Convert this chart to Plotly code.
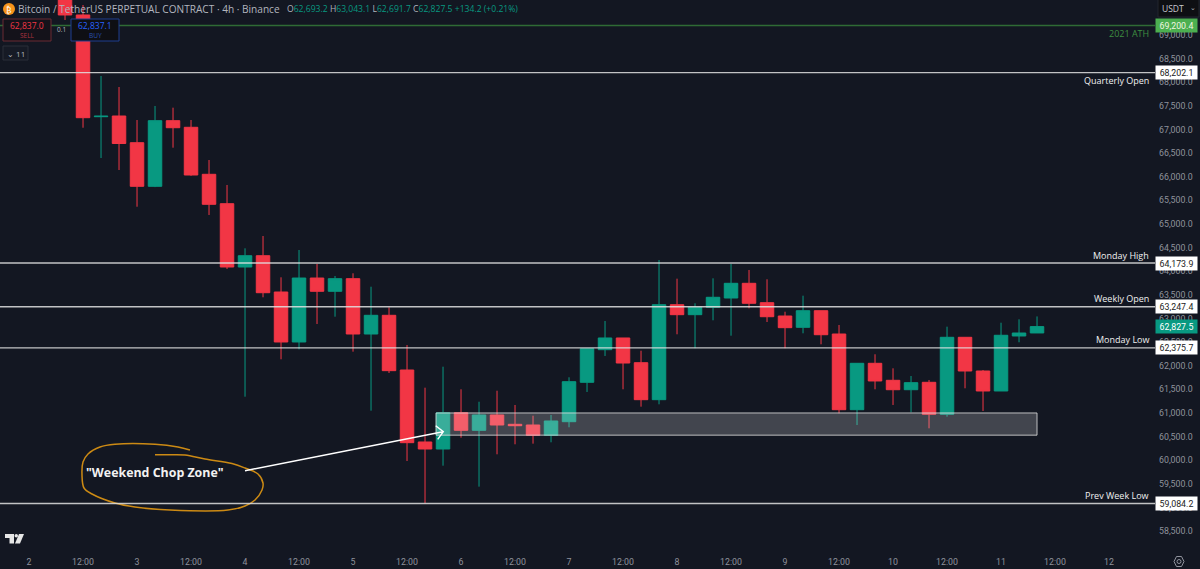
import pandas as pd
import plotly.graph_objects as go

# 4h candles, first one is day 2 08:00
start = "2024-07-02 08:00"
opens = [69846, 69423, 67270, 67285, 66720, 65797, 67186, 67046, 66051, 65429, 64089, 64328, 63560, 62502, 63856, 63575, 63842, 62671, 63067,
         61909, 60386, 60237, 61006, 60633, 60957, 60760, 60745, 60527, 60815, 61649, 62339, 62587, 62064, 61281, 63291, 63080, 63236, 63433,
         63744, 63334, 63052, 62813, 63164, 62671, 61069, 62051, 61691, 61492, 61649, 60972, 62601, 61888, 61465, 62629, 62693.2]
highs = [69900, 69634, 68132, 67899, 67200, 67497, 67461, 67200, 66354, 65825, 64485, 64745, 63871, 64449, 64153, 63899, 63956, 63672, 63236,
         62438, 61535, 61979, 61501, 61238, 61471, 61169, 60942, 60957, 61755, 62360, 62946, 62587, 62318, 64237, 63842, 63321, 63850, 64153,
         64026, 63829, 63143, 63482, 63164, 62862, 62051, 62242, 61945, 61782, 61698, 62826, 62601, 61909, 62910, 62982, 63043.1]
lows = [69317, 67037, 66396, 66142, 65365, 65780, 66614, 66020, 65190, 64047, 61344, 63448, 62136, 62347, 62883, 63037, 62297, 61048, 61846,
        59983, 59088, 59884, 60477, 59440, 60125, 60337, 60350, 60379, 60697, 61444, 62206, 61501, 61133, 61183, 62665, 62369, 62961, 62635,
        63215, 62925, 62369, 62686, 62453, 60993, 60745, 61501, 61169, 61014, 60675, 60921, 61522, 61042, 61465, 62496, 62691.7]
closes = [69423, 67249, 67281, 66703, 65797, 67186, 67037, 66036, 65416, 64089, 64328, 63545, 62502, 63856, 63575, 63842, 62671, 63067, 61895,
          60371, 60237, 61006, 60633, 60957, 60745, 60730, 60527, 60830, 61662, 62360, 62587, 62057, 61281, 63291, 63080, 63236, 63448, 63744,
          63321, 63037, 62805, 63164, 62656, 61069, 62051, 61677, 61492, 61641, 60972, 62601, 61888, 61465, 62644, 62692, 62827.5]

# horizontal levels
level_values = [69200.4, 68202.1, 64173.9, 63247.4, 62375.7, 59084.2]
level_names = ["2021 ATH", "Quarterly Open", "Monday High", "Weekly Open", "Monday Low", "Prev Week Low"]
last_price = 62827.5
zone_low, zone_high = 60530, 61000
zone_start, zone_end = "2024-07-05 18:27", "2024-07-11 08:00"

price_ticks = [58500 + 500 * i for i in range(22)]
day_labels = ["2", "3", "4", "5", "6", "7", "8", "9", "10", "11", "12"]

# the hand drawn ring round the label, in screen pixels
ring_x = [190, 178, 155, 115, 100, 88, 83, 82, 84, 92, 115, 135, 170, 228, 245, 255, 262, 263, 258, 245, 232, 205, 185, 170, 155]
ring_y = [450, 447, 444.3, 444.3, 447, 454, 462, 475, 488, 494, 503, 507, 510, 510, 506, 500, 490, 483, 474, 468, 463.5, 459, 455, 454.7, 454.7]

BG = "#131722"
RED = "#F23645"
GREEN = "#089981"
FONT = "Open Sans"
TICK_FONT = "Roboto"

WIDTH, HEIGHT = 1200, 569
AXIS_X = 1155
AXIS_Y = 548

times = pd.date_range(start, periods=len(opens), freq="4h")
tick_times = []
tick_text = []
for i, d in enumerate(day_labels):
    day = pd.Timestamp("2024-07-02") + pd.Timedelta(days=i)
    tick_times.append(day)
    tick_text.append(d)
    if i < len(day_labels) - 1:
        tick_times.append(day + pd.Timedelta(hours=12))
        tick_text.append("12:00")

fig = go.Figure()
fig.add_trace(go.Candlestick(
    x=times, open=opens, high=highs, low=lows, close=closes,
    increasing=dict(line=dict(color=GREEN, width=1), fillcolor=GREEN),
    decreasing=dict(line=dict(color=RED, width=1), fillcolor=RED),
    whiskerwidth=0, showlegend=False, hoverinfo="skip",
))
fig.add_trace(go.Scatter(
    x=ring_x, y=ring_y, xaxis="x2", yaxis="y2", mode="lines",
    line=dict(color="#CC8A14", width=1.5, shape="spline"), showlegend=False, hoverinfo="skip",
))

shapes = []
annotations = []


def label(x, y, text, color="#B2B5BE", size=10, anchor="left", **kw):
    annotations.append(dict(x=x, y=y, xref="x2", yref="y2", text=text, showarrow=False, xanchor=anchor,
                            yanchor="middle", font=dict(family=FONT, size=size, color=color), **kw))


def box(x0, y0, x1, y1, fill, line, width=1):
    shapes.append(dict(type="rect", xref="x2", yref="y2", x0=x0, y0=y0, x1=x1, y1=y1, fillcolor=fill,
                       line=dict(color=line, width=width), layer="above"))


def price_tag(value, bg, fg):
    annotations.append(dict(x=1155, xref="x2", y=value, yref="y", text=f"{value:,.1f}", showarrow=False,
                            xanchor="left", yanchor="middle", width=39, height=11, bgcolor=bg, align="center",
                            font=dict(family=TICK_FONT, size=8.8, color=fg)))


# chop zone
shapes.append(dict(type="rect", xref="x", yref="y", x0=zone_start, x1=zone_end, y0=zone_low, y1=zone_high,
                   fillcolor="rgba(255,255,255,0.2)", line=dict(color="rgba(225,225,225,0.8)", width=1), layer="above"))

# levels with their names and tags
for value, name in zip(level_values, level_names):
    is_ath = name == "2021 ATH"
    shapes.append(dict(type="line", xref="x2", yref="y", x0=0, x1=AXIS_X, y0=value, y1=value, layer="above",
                       line=dict(color="#2F6B35" if is_ath else "rgba(226,226,226,0.85)", width=1.3)))
    above = name in ("Monday High", "Weekly Open", "Monday Low", "Prev Week Low")
    annotations.append(dict(x=1151, xref="x2", y=value, yref="y", yshift=8 if above else -8, text=name, showarrow=False,
                            xanchor="right", yanchor="middle",
                            font=dict(family=FONT, size=9, color="#3E8E41" if is_ath else "#F0F0F0")))
    if is_ath:
        price_tag(value, "#4CAF50", "#F0F5E0")
    else:
        price_tag(value, "#FFFFFF", "#222222")
price_tag(last_price, GREEN, "#FFFFFF")

# arrow from the label to the zone, head is an open chevron
shapes.append(dict(type="path", xref="x2", yref="y2", layer="above", line=dict(color="#FFFFFF", width=1.4),
                   path="M 245 470.7 L 443 431.7 M 435.7 425.7 L 443.3 431.7 L 437.7 439.3"))
label(84, 472, "<b>\"Weekend Chop Zone\"</b>", "#F2F2F2", 12.4)

# header
shapes.append(dict(type="circle", xref="x2", yref="y2", x0=3, y0=3, x1=15, y1=15, fillcolor="#F7931A",
                   line=dict(width=0), layer="above"))
label(9, 9, "₿", "#FFFFFF", 8, "center")
label(16, 8.5, "Bitcoin / TetherUS PERPETUAL CONTRACT · 4h · Binance", "#B2B5BE", 10.1)
g = f'<span style="color:{GREEN}">'
label(285, 8.5, f"O{g}62,693.2</span> H{g}63,043.1</span> L{g}62,691.7</span> C{g}62,827.5</span> {g}+134.2 (+0.21%)</span>",
      "#B2B5BE", 8.6)

# order buttons
box(3, 19, 51, 41, "#14121A", "#6B2A33")
label(27, 25, "62,837.0", RED, 8.5, "center")
label(27, 35, "SELL", "#B03340", 6.5, "center")
label(61, 29.5, "0.1", "#B2B5BE", 6.5, "center")
box(71, 19, 119, 41, "#0E0F14", "#1E3F8F")
label(95, 25, "62,837.1", "#2962FF", 8.5, "center")
label(95, 35, "BUY", "#2A4FB0", 6.5, "center")
box(3, 46, 28, 60, "#161A25", "#2A2E39")
label(16, 53, "⌄ 11", "#B2B5BE", 8, "center")

# currency box and settings
box(1158, -1, 1199, 17, "#0E0F13", "#23262F")
label(1160, 8, "USDT", "#C8CAD0", 8.5)
label(1193, 7, "⌄", "#B2B5BE", 7, "center")
shapes.append(dict(type="path", xref="x2", yref="y2", layer="above", line=dict(color="#8F929C", width=1),
                   path="M 1174 561.5 L 1176.5 556.5 L 1181.5 556.5 L 1184 561.5 L 1181.5 566.5 L 1176.5 566.5 Z"))
shapes.append(dict(type="circle", xref="x2", yref="y2", x0=1177, y0=559.5, x1=1181, y1=563.5, layer="above",
                   line=dict(color="#8F929C", width=1)))

# TradingView mark
shapes.append(dict(type="path", xref="x2", yref="y2", layer="above", fillcolor="#E6E6E6", line=dict(width=0),
                   path="M 5 534 L 14 534 L 14 543.5 L 9.5 543.5 L 9.5 538 L 5 538 Z"))
shapes.append(dict(type="path", xref="x2", yref="y2", layer="above", fillcolor="#E6E6E6", line=dict(width=0),
                   path="M 19 534 L 24 534 L 20 543.5 L 15 543.5 Z"))
shapes.append(dict(type="circle", xref="x2", yref="y2", x0=14.5, y0=534, x1=18, y1=537.5, layer="above",
                   fillcolor="#E6E6E6", line=dict(width=0)))

fig.update_layout(
    width=WIDTH, height=HEIGHT,
    margin=dict(l=0, r=0, t=0, b=0),
    paper_bgcolor=BG, plot_bgcolor="rgba(0,0,0,0)",
    showlegend=False, boxgap=0.25, boxgroupgap=0,
    font=dict(family=FONT, color="#8F929C", size=9.5),
    shapes=shapes, annotations=annotations,
    xaxis=dict(
        domain=[0, AXIS_X / WIDTH], anchor="y", type="date",
        range=["2024-07-01 17:33", "2024-07-12 10:13"], rangeslider=dict(visible=False),
        tickmode="array", tickvals=tick_times, ticktext=tick_text, showgrid=False, zeroline=False, showline=False,
        ticks="", ticklen=0, ticklabelstandoff=7, tickfont=dict(family=TICK_FONT, size=8.8, color="#8F929C"), automargin=False,
    ),
    yaxis=dict(
        domain=[1 - AXIS_Y / HEIGHT, 1], anchor="x", side="right",
        range=[58142, 69740], tickmode="array", tickvals=price_ticks, tickformat=",.1f",
        showgrid=False, zeroline=False, showline=False, ticks="", ticklabelstandoff=3,
        tickfont=dict(family=TICK_FONT, size=8.8, color="#8F929C"), automargin=False,
    ),
    xaxis2=dict(domain=[0, 1], range=[0, WIDTH], visible=False, anchor="y2"),
    yaxis2=dict(domain=[0, 1], range=[HEIGHT, 0], visible=False, anchor="x2"),
)

fig.write_html("out.html", post_script="document.body.style.margin='0';", config=dict(displayModeBar=False))
